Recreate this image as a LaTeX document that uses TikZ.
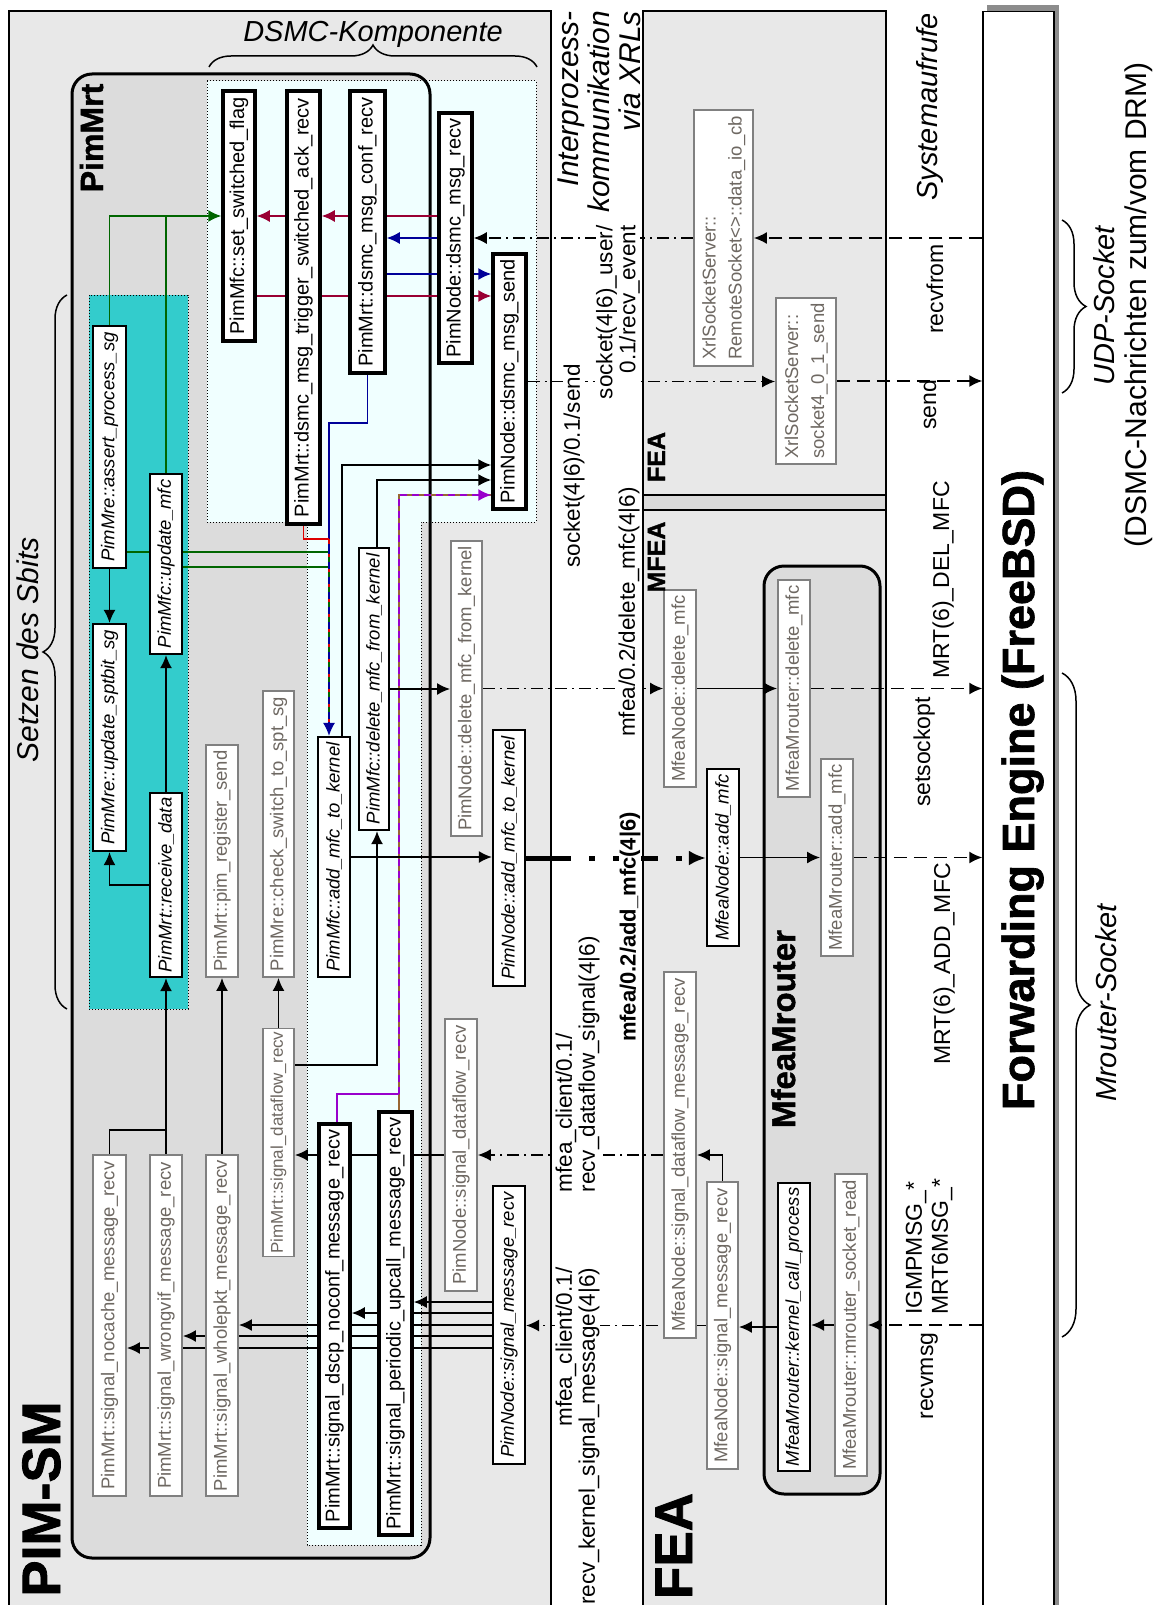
\documentclass[tikz,border=0pt]{standalone}
\usepackage{fontspec}
\setmainfont{Liberation Sans}
\newfontfamily\heavyfont{Liberation Sans}[BoldFeatures={FakeBold=1.5}]
\usepackage{graphicx}
\usetikzlibrary{arrows.meta,calc,decorations.pathreplacing}

\definecolor{panelgray}{HTML}{E8E8E8}
\definecolor{mrtgray}{HTML}{DCDCDC}
\definecolor{bandgray}{HTML}{DADADA}
\definecolor{sbitcyan}{HTML}{33CCCC}
\definecolor{dsmcazure}{HTML}{F0FFFF}
\definecolor{boxline}{HTML}{808080}
\definecolor{boxtext}{HTML}{6E6862}
\definecolor{callgreen}{HTML}{006600}
\definecolor{callred}{HTML}{990033}
\definecolor{callblue}{HTML}{000099}
\definecolor{callbright}{HTML}{DD0000}
\definecolor{callpurple}{HTML}{9900CC}
\definecolor{callbrown}{HTML}{996633}
\definecolor{shadowgray}{HTML}{8C8C8C}

\newcommand{\fsz}[1]{\fontsize{#1}{#1}\selectfont}
\newcommand{\vtxt}[1]{\rotatebox{90}{#1}}

\pgfdeclarelayer{panels}
\pgfdeclarelayer{wires}
\pgfsetlayers{panels,wires,main}

\tikzset{
  sz/.style 2 args={minimum width=#1pt, minimum height=#2pt},
  fnbox/.style={draw, line width=3.5pt, fill=white, inner sep=0pt, font=\fsz{20}},
  calbox/.style={draw, line width=2.2pt, fill=white, inner sep=0pt, font=\itshape\fsz{18.5}},
  libbox/.style={draw=boxline, line width=1.8pt, fill=white, text=boxtext, inner sep=0pt, font=\fontsize{18.5}{26}\selectfont},
  arr/.style={-{Latex[length=13pt,width=12pt]}},
  bigarr/.style={-{Latex[length=17pt,width=15pt]}},
  wire/.style={line width=1.8pt},
  gwire/.style={draw=callgreen, line width=1.5pt},
  rwire/.style={draw=callred, line width=1.5pt},
  bwire/.style={draw=callblue, line width=1.5pt},
  xrl/.style={line width=1.5pt, dash pattern=on 12pt off 5pt on 2pt off 5pt},
  sys/.style={line width=1.5pt, dash pattern=on 13pt off 7pt},
  xrlbold/.style={line width=5pt, dash pattern=on 45pt off 18pt on 6pt off 18pt},
  stlabel/.style={rotate=90, fill=white, inner sep=0.5pt, font=\fontsize{22.5}{23}\selectfont},
  syslabel/.style={rotate=90, anchor=base, inner sep=0pt, font=\fsz{23}},
  title/.style={rotate=90, anchor=base, inner sep=0pt, font=\heavyfont\bfseries\fsz{#1}},
  curly/.style={decorate, decoration={brace, amplitude=#1}, line width=1.5pt},
  dotborder/.style={line width=1pt, dash pattern=on 1pt off 2pt}
}

\begin{document}
\begin{tikzpicture}[x=1pt, y=-1pt]
\useasboundingbox (0,0) rectangle (1158,1605);

% horizontal lanes of the call paths
\coordinate (lnB2) at (0,274);
\coordinate (lnR2) at (0,296);
\coordinate (lnBT) at (0,423);
\coordinate (lnAK) at (0,465);
\coordinate (lnDK) at (0,480);
\coordinate (lnPU) at (0,495);
\coordinate (lnRT) at (0,539);
\coordinate (lnG1) at (0,552);
\coordinate (lnG2) at (0,567);
\coordinate (lnDFK) at (0,1065);
\coordinate (lnPT) at (0,1094);
\coordinate (lnNC) at (0,1130);
\coordinate (lnS1) at (0,1302);
\coordinate (lnS2) at (0,1313);
\coordinate (lnS3) at (0,1325);
\coordinate (lnS4) at (0,1336);
\coordinate (lnS5) at (0,1348);

% ---------- panels ----------
\begin{pgfonlayer}{panels}
  \fill[white] (0,0) rectangle (1158,1605);
  \draw[line width=1.5pt, fill=panelgray] (9,11) rectangle (551,1620);
  \draw[line width=1.5pt, fill=panelgray] (643,11) rectangle (886,1620);
  \draw[line width=1.5pt, fill=bandgray] (643,495) rectangle (886,510);
  \fill[shadowgray] (987,5) rectangle (1059,1620);
  \fill[mrtgray, rounded corners=20pt] (72,74) rectangle (430,1558);
  \draw[dotborder, fill=sbitcyan] (89,295) rectangle (188,1009);
  \draw[dotborder, fill=dsmcazure] (207,81) -- (536,81) -- (536,522) -- (421,522)
      -- (421,1545) -- (307,1545) -- (307,522) -- (207,522) -- cycle;
  \draw[line width=3pt, rounded corners=20pt] (72,74) rectangle (430,1558);
  \draw[line width=3pt, fill=mrtgray, rounded corners=20pt] (764,566) rectangle (880,1494);
\end{pgfonlayer}

% ---------- PIM-SM: DSMC component ----------
\node[fnbox, sz={32}{250}] (setflag) at (239,216) {\vtxt{PimMfc::set\_switched\_flag}};
\node[fnbox, sz={33}{433}] (trig) at (303.5,307.5) {\vtxt{PimMrt::dsmc\_msg\_trigger\_switched\_ack\_recv}};
\node[fnbox, sz={35}{282}] (conf) at (367.5,232) {\vtxt{PimMrt::dsmc\_msg\_conf\_recv}};
\node[fnbox, sz={33}{250}] (mrecv) at (455.5,238) {\vtxt{PimNode::dsmc\_msg\_recv}};
\node[fnbox, sz={33}{255}] (msend) at (509.5,381.5) {\vtxt{PimNode::dsmc\_msg\_send}};

% ---------- PIM-SM: S-bit group ----------
\node[calbox, sz={33}{242}] (assert) at (109.5,447) {\vtxt{PimMre::assert\_process\_sg}};
\node[calbox, sz={32}{180}] (updmfc) at (166,564) {\vtxt{PimMfc::update\_mfc}};
\node[calbox, sz={33}{227}] (sptbit) at (109.5,737.5) {\vtxt{PimMre::update\_sptbit\_sg}};
\node[calbox, sz={32}{184}] (recvdata) at (166,885) {\vtxt{PimMrt::receive\_data}};

% ---------- PIM-SM: other PimMrt methods ----------
\node[libbox, sz={32}{232}] (regsend) at (222,861) {\vtxt{PimMrt::pim\_register\_send}};
\node[libbox, sz={31}{286}] (chkspt) at (278.5,834) {\vtxt{PimMre::check\_switch\_to\_spt\_sg}};
\node[libbox, sz={31}{228}, font=\fsz{17}] (mrtdf) at (278.5,1142.5) {\vtxt{PimMrt::signal\_dataflow\_recv}};
\node[libbox, sz={33}{341}] (nocache) at (109.5,1325.5) {\vtxt{PimMrt::signal\_nocache\_message\_recv}};
\node[libbox, sz={32}{341}] (wrongvif) at (166,1325.5) {\vtxt{PimMrt::signal\_wrongvif\_message\_recv}};
\node[libbox, sz={32}{341}] (wholepkt) at (222,1325.5) {\vtxt{PimMrt::signal\_wholepkt\_message\_recv}};
\node[calbox, sz={32}{240}] (addk) at (334,857) {\vtxt{PimMfc::add\_mfc\_to\_kernel}};
\node[calbox, sz={30}{282}] (delk) at (374,689) {\vtxt{PimMfc::delete\_mfc\_from\_kernel}};
\node[fnbox, sz={31}{404}] (dscp) at (334.5,1326) {\vtxt{PimMrt::signal\_dscp\_noconf\_message\_recv}};
\node[fnbox, sz={33}{423}] (periodic) at (395.5,1323.5) {\vtxt{PimMrt::signal\_periodic\_upcall\_message\_recv}};

% ---------- PIM-SM: PimNode ----------
\node[libbox, sz={31}{295}] (pndel) at (466.5,688.5) {\vtxt{PimNode::delete\_mfc\_from\_kernel}};
\node[calbox, sz={32}{256}] (pnadd) at (509,858) {\vtxt{PimNode::add\_mfc\_to\_kernel}};
\node[libbox, sz={32}{272}] (pndf) at (461,1155) {\vtxt{PimNode::signal\_dataflow\_recv}};
\node[calbox, sz={32}{278}] (pnsig) at (509,1325) {\vtxt{PimNode::signal\_message\_recv}};

% ---------- FEA ----------
\node[libbox, sz={59}{256}] (rsock) at (723.5,238) {\vtxt{\begin{tabular}{@{}l@{}}XrlSocketServer::\\RemoteSocket<>::data\_io\_cb\end{tabular}}};
\node[libbox, sz={60}{166}] (s4send) at (806,381) {\vtxt{\begin{tabular}{@{}l@{}}XrlSocketServer::\\socket4\_0\_1\_send\end{tabular}}};
\node[libbox, sz={32}{197}] (mfdel) at (680,688.5) {\vtxt{MfeaNode::delete\_mfc}};
\node[calbox, sz={32}{177}] (mfadd) at (723,857.5) {\vtxt{MfeaNode::add\_mfc}};
\node[libbox, sz={32}{366}] (mfdf) at (680,1155) {\vtxt{MfeaNode::signal\_dataflow\_message\_recv}};
\node[libbox, sz={31}{287}] (mfsig) at (722.5,1325.5) {\vtxt{MfeaNode::signal\_message\_recv}};
\node[libbox, sz={32}{217}] (mrdel) at (794,688.5) {\vtxt{MfeaMrouter::delete\_mfc}};
\node[libbox, sz={32}{197}] (mradd) at (837,857.5) {\vtxt{MfeaMrouter::add\_mfc}};
\node[calbox, sz={32}{288}] (kcp) at (794,1327) {\vtxt{MfeaMrouter::kernel\_call\_process}};
\node[libbox, sz={32}{302}] (mrread) at (851,1325) {\vtxt{MfeaMrouter::mrouter\_socket\_read}};

% ---------- Forwarding engine ----------
\node[draw, line width=1.5pt, fill=white, inner sep=0pt, minimum width=71pt,
      minimum height=1620pt, anchor=north] (fe) at (1018.5,11) {};
\node[title=45] at (1034,790) {Forwarding Engine (FreeBSD)};

% attachment points on box edges
\coordinate (addkIn) at ([xshift=-5pt]addk.north);
\coordinate (addkOut) at ([xshift=8pt]addk.north);
\coordinate (delkTop) at ([xshift=3pt]delk.north);
\coordinate (delkBot) at ([xshift=3pt]delk.south);
\coordinate (puTop) at ([xshift=3.5pt]periodic.north);
\coordinate (dscpTop) at ([xshift=2.5pt]dscp.north);

% ---------- connectors ----------
\begin{pgfonlayer}{wires}
  % S-bit: switched flag
  \draw[gwire, arr] (assert.north) |- (setflag.west);
  \draw[gwire] (updmfc.north) -- (updmfc.north |- setflag.west);
  \draw[gwire] (assert.east |- lnG1) -- (addkIn |- lnG1);
  \draw[gwire] (updmfc.east |- lnG2) -- (addkIn |- lnG2);
  % DSMC trigger / ack
  \draw[rwire, arr] (mrecv.west |- setflag.east) -- (trig.east |- setflag.east);
  \draw[rwire, arr] (trig.west |- setflag.east) -- (setflag.east);
  \draw[rwire, arr] (setflag.east |- lnR2) -- (msend.west |- lnR2);
  % DSMC conf
  \draw[bwire, arr] (mrecv.west) -- (conf.east |- mrecv.west);
  \draw[bwire, arr] (conf.east |- lnB2) -- (msend.west |- lnB2);
  \draw[bwire, arr] (conf.south) |- (addkIn |- lnBT) -- (addkIn);
  \draw[draw=callbright, line width=1.5pt] (trig.south) |- (addkIn |- lnRT);
  \draw[draw=callbright, line width=1.5pt, dash pattern=on 5pt off 10pt] (addkIn |- lnRT) -- ([yshift=14pt]addkIn);
  \draw[gwire, dash pattern=on 5pt off 10pt, dash phase=-5pt] (addkIn |- lnG1) -- ([yshift=14pt]addkIn);
  % into dsmc_msg_send
  \draw[wire, arr] (addkOut) |- (msend.west |- lnAK);
  \draw[wire, arr] (delkTop) |- (msend.west |- lnDK);
  \draw[draw=callbrown, line width=1.5pt] (puTop) |- (msend.west |- lnPU);
  \draw[draw=callpurple, line width=1.5pt] (dscpTop) |- (puTop |- lnPT);
  \draw[draw=callpurple, line width=1.5pt, dash pattern=on 7pt off 5pt, arr] (puTop |- lnPT) |- (msend.west |- lnPU);
  % UDP socket
  \draw[sys, arr] (fe.west |- rsock.east) -- (rsock.east);
  \draw[xrl, arr] (rsock.west) -- (mrecv.east |- rsock.west);
  \draw[xrl, arr] (msend.east) -- (s4send.west |- msend.east);
  \draw[sys, arr] (s4send.east) -- (fe.west |- s4send.east);
  % delete MFC
  \draw[wire, arr] (delk.east) -- (pndel.west |- delk.east);
  \draw[xrl, arr] (pndel.east) -- (mfdel.west |- pndel.east);
  \draw[wire, arr] (mfdel.east) -- (mrdel.west |- mfdel.east);
  \draw[sys, arr] (mrdel.east) -- (fe.west |- mrdel.east);
  % add MFC
  \draw[wire, arr] (addk.east) -- (pnadd.west |- addk.east);
  \draw[xrlbold, bigarr] (pnadd.east) -- (mfadd.west |- pnadd.east);
  \draw[wire, arr] (mfadd.east) -- (mradd.west |- mfadd.east);
  \draw[sys, arr] (mradd.east) -- (fe.west |- mradd.east);
  % PimMrt internals
  \draw[wire, arr] (assert.south) -- (sptbit.north);
  \draw[wire, arr] (recvdata.west) -| (sptbit.south);
  \draw[wire, arr] (recvdata.north) -- (updmfc.south);
  \draw[wire, arr] (wrongvif.north) -- (recvdata.south);
  \draw[wire] (nocache.north) |- (wrongvif.north |- lnNC);
  \draw[wire, arr] (wholepkt.north) -- (regsend.south);
  \draw[wire, arr] (mrtdf.north) -- (chkspt.south);
  \draw[wire, arr] (mrtdf.east |- lnDFK) -| (delkBot);
  % dataflow signal
  \draw[wire, arr] (pndf.west) -- (mrtdf.east |- pndf.west);
  \draw[xrl, arr] (mfdf.west) -- (pndf.east |- mfdf.west);
  \draw[wire, arr] (mfsig.north) |- (mfdf.east);
  % kernel signal messages
  \draw[sys, arr] (fe.west |- mrread.east) -- (mrread.east);
  \draw[wire, arr] (mrread.west) -- (kcp.east |- mrread.west);
  \draw[wire, arr] (kcp.west) -- (mfsig.east |- kcp.west);
  \draw[xrl, arr] (mfsig.west) -- (pnsig.east |- mfsig.west);
  \draw[wire, arr] (pnsig.west |- lnS1) -- (periodic.east |- lnS1);
  \draw[wire, arr] (pnsig.west |- lnS2) -- (dscp.east |- lnS2);
  \draw[wire, arr] (pnsig.west |- lnS3) -- (wholepkt.east |- lnS3);
  \draw[wire, arr] (pnsig.west |- lnS4) -- (wrongvif.east |- lnS4);
  \draw[wire, arr] (pnsig.west |- lnS5) -- (nocache.east |- lnS5);
\end{pgfonlayer}

% ---------- titles ----------
\node[title=32] at (103,138) {PimMrt};
\node[title=54] at (60,1499) {PIM-SM};
\node[title=53] at (692,1546) {FEA};
\node[title=25] at (665,457) {FEA};
\node[title=25] at (665,557) {MFEA};
\node[title=33] at (795,1029) {MfeaMrouter};

% ---------- braces and their captions ----------
\draw[curly=22pt] (209,67) -- (537,67);
\node[anchor=base, inner sep=0pt, font=\itshape\fsz{29}] at (373,42) {DSMC-Komponente};
\draw[curly=24pt] (67,1009) -- (67,295);
\node[rotate=90, anchor=base, inner sep=0pt, font=\itshape\fsz{30}] at (38,650) {Setzen des Sbits};
\draw[curly=24pt] (1062,220) -- (1062,393);
\node[rotate=90, anchor=base, inner sep=0pt, font=\itshape\fsz{29}] at (1114,306) {UDP-Socket};
\node[rotate=90, anchor=base, inner sep=0pt, font=\fsz{30}] at (1146,305) {(DSMC-Nachrichten zum/vom DRM)};
\draw[curly=28pt] (1062,673) -- (1062,1337);
\node[rotate=90, anchor=base, inner sep=0pt, font=\itshape\fsz{29}] at (1116,1003) {Mrouter-Socket};

% ---------- IPC strip ----------
\node[rotate=90, anchor=east, align=right, inner sep=0pt, font=\itshape\fontsize{30}{31}\selectfont] at (599,11) {Interprozess-\\kommunikation\\via XRLs};
\node[stlabel, align=right, anchor=east] at (618,225) {socket(4|6)\_user/\\0.1/recv\_event};
\node[stlabel] at (574,466) {socket(4|6)/0.1/send};
\node[stlabel] at (629,612) {mfea/0.2/delete\_mfc(4|6)};
\node[stlabel, font=\bfseries\fsz{22}] at (630,927) {mfea/0.2/add\_mfc(4|6)};
\node[stlabel, align=left, anchor=west] at (577.5,1193) {mfea\_client/0.1/\\recv\_dataflow\_signal(4|6)};
\node[stlabel, align=right, anchor=east] at (577.5,1267) {mfea\_client/0.1/\\recv\_kernel\_signal\_message(4|6)};

% ---------- system call strip ----------
\node[rotate=90, anchor=base, inner sep=0pt, font=\itshape\fsz{29}] at (937,107) {Systemaufrufe};
\node[syslabel] at (943,289) {recvfrom};
\node[syslabel] at (936,405) {send};
\node[syslabel] at (949,580) {MRT(6)\_DEL\_MFC};
\node[syslabel] at (930,752) {setsockopt};
\node[syslabel] at (950,964) {MRT(6)\_ADD\_MFC};
\node[rotate=90, anchor=west, align=left, inner sep=0pt, font=\fontsize{23}{26}\selectfont] at (929,1315) {IGMPMSG\_*\\MRT6MSG\_*};
\node[syslabel] at (933,1376) {recvmsg};
\end{tikzpicture}
\end{document}
